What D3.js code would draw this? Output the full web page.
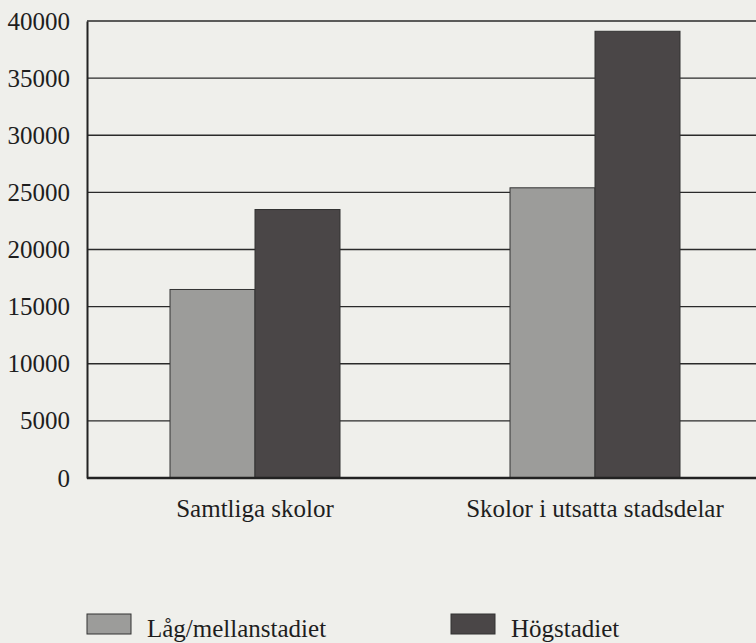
<!DOCTYPE html>
<html>
<head>
<meta charset="utf-8">
<script src="https://cdn.jsdelivr.net/npm/d3@7"></script>
<style>
  html, body { margin: 0; padding: 0; background: #efefeb; }
  svg { display: block; }
  text { font-family: "Liberation Serif", "DejaVu Serif", serif; fill: #1e1e1e; }
</style>
</head>
<body>
<div id="chart"></div>
<script>
// Data
const categories = ['Samtliga skolor', 'Skolor i utsatta stadsdelar'];
const seriesNames = ['Låg/mellanstadiet', 'Högstadiet'];
const lagMellan = [16500, 25400];
const hogstadiet = [23500, 39100];
const yTicks = [0, 5000, 10000, 15000, 20000, 25000, 30000, 35000, 40000];

const width = 756, height = 643;
const margin = { top: 21, right: 0, bottom: 165, left: 87 };
const colors = ['#9c9c9a', '#4a4647'];
const fontSize = 25;

const svg = d3.select('#chart').append('svg')
    .attr('width', width)
    .attr('height', height);

const x0 = d3.scaleBand()
    .domain(categories)
    .range([margin.left - 2, margin.left + 678])
    .paddingInner(0.5)
    .paddingOuter(0.25);

const x1 = d3.scaleBand()
    .domain(seriesNames)
    .range([0, x0.bandwidth()]);

const y = d3.scaleLinear()
    .domain([0, 40000])
    .range([height - margin.bottom, margin.top]);

// Gridlines
svg.append('g')
    .selectAll('line')
    .data(yTicks.filter(d => d > 0))
    .enter()
    .append('line')
    .attr('x1', margin.left)
    .attr('x2', width)
    .attr('y1', d => y(d))
    .attr('y2', d => y(d))
    .attr('stroke', '#2a2a2a')
    .attr('stroke-width', 1.4);

// Y axis
const yAxis = d3.axisLeft(y)
    .tickValues(yTicks)
    .tickSize(0)
    .tickPadding(17)
    .tickFormat(d3.format('d'));

const gy = svg.append('g')
    .attr('transform', `translate(${margin.left},0)`)
    .call(yAxis);
gy.select('.domain').attr('stroke', '#222').attr('stroke-width', 2);
gy.selectAll('text')
    .attr('font-size', fontSize)
    .attr('font-family', '"Liberation Serif", serif')
    .attr('fill', '#1e1e1e');

// Bars
const rows = categories.map((c, i) => ({ cat: c, values: [lagMellan[i], hogstadiet[i]] }));

const groups = svg.append('g')
    .selectAll('g')
    .data(rows)
    .enter()
    .append('g')
    .attr('transform', d => `translate(${x0(d.cat)},0)`);

groups.selectAll('rect')
    .data(d => d.values.map((v, j) => ({ key: seriesNames[j], value: v, idx: j })))
    .enter()
    .append('rect')
    .attr('x', d => x1(d.key))
    .attr('y', d => y(d.value))
    .attr('width', x1.bandwidth())
    .attr('height', d => y(0) - y(d.value))
    .attr('fill', d => colors[d.idx])
    .attr('stroke', '#333')
    .attr('stroke-width', 1);

// X axis
const xAxis = d3.axisBottom(x0)
    .tickSize(0)
    .tickPadding(21);

const gx = svg.append('g')
    .attr('transform', `translate(0,${y(0)})`)
    .call(xAxis);
gx.select('.domain')
    .attr('d', `M${margin.left},0H${width}`)
    .attr('stroke', '#222')
    .attr('stroke-width', 2.5);
gx.selectAll('text')
    .attr('font-size', fontSize)
    .attr('font-family', '"Liberation Serif", serif')
    .attr('fill', '#1e1e1e');

// Legend
const legendX = [87, 451];
const legend = svg.append('g')
    .selectAll('g')
    .data(seriesNames)
    .enter()
    .append('g')
    .attr('transform', (d, i) => `translate(${legendX[i]},614)`);

legend.append('rect')
    .attr('width', 44)
    .attr('height', 20)
    .attr('fill', (d, i) => colors[i])
    .attr('stroke', '#333')
    .attr('stroke-width', 1);

legend.append('text')
    .attr('x', 60)
    .attr('y', 23)
    .attr('font-size', fontSize)
    .text(d => d);
</script>
</body>
</html>
